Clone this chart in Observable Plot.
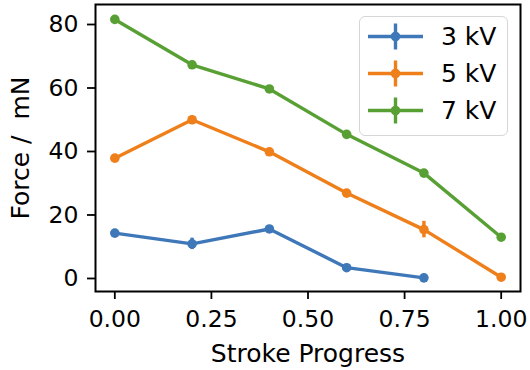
<!DOCTYPE html>
<html><head><meta charset="utf-8">
<script src="https://cdn.jsdelivr.net/npm/d3@7"></script>
<script src="https://cdn.jsdelivr.net/npm/@observablehq/plot@0.6"></script>
<style>
html,body{margin:0;padding:0;background:#fff;}
#wrap{position:relative;width:530px;height:370px;font-family:"DejaVu Sans",sans-serif;}
#legend{position:absolute;left:359px;top:16px;width:149px;height:120px;border:1.5px solid #d6d6d6;border-radius:6px;background:rgba(255,255,255,0.85);box-sizing:border-box;}
.row{position:absolute;left:0;height:37px;width:145px;}
.row svg{position:absolute;left:7.5px;top:0;}
.row span{position:absolute;left:81px;top:0;line-height:37px;font-size:25px;color:#000;white-space:nowrap;}
</style>
</head><body>
<div id="wrap"></div>
<script>
const progress = [0, 0.2, 0.4, 0.6, 0.8, 1.0];
const series = ["3 kV", "5 kV", "7 kV"];
const colors = ["#3f78b8", "#ef7f1a", "#58a034"];
const force3 = [14.3, 10.9, 15.6, 3.4, 0.2];
const err3 = [0.6, 1.8, 0.7, 0.5, 0.3];
const force5 = [37.9, 50.0, 39.9, 26.9, 15.4, 0.4];
const err5 = [0.5, 0.6, 0.5, 0.5, 2.6, 0.3];
const force7 = [81.6, 67.3, 59.7, 45.4, 33.2, 13.0];
const err7 = [0.5, 0.6, 0.5, 0.5, 0.6, 0.4];
const xTicks = [0, 0.25, 0.5, 0.75, 1.0];
const yTicks = [0, 20, 40, 60, 80];

const forces = [force3, force5, force7];
const errs = [err3, err5, err7];
const rows = [];
series.forEach((s, i) => {
  forces[i].forEach((v, j) => rows.push({series: s, x: progress[j], y: v, lo: v - errs[i][j], hi: v + errs[i][j]}));
});

const chart = Plot.plot({
  width: 530,
  height: 370,
  marginLeft: 95,
  marginRight: 10,
  marginTop: 4,
  marginBottom: 79,
  style: {fontFamily: "DejaVu Sans, sans-serif", fontSize: "23.5px", color: "#000", background: "#fff", overflow: "visible"},
  x: {domain: [-0.05, 1.05]},
  y: {domain: [-4.1, 86.3]},
  color: {domain: series, range: colors},
  marks: [
    Plot.line(rows, {x: "x", y: "y", z: "series", stroke: "series", strokeWidth: 3.4}),
    Plot.ruleX(rows, {x: "x", y1: "lo", y2: "hi", stroke: "series", strokeWidth: 3.4}),
    Plot.dot(rows, {x: "x", y: "y", fill: "series", r: 4.8}),
    Plot.frame({stroke: "#000", strokeWidth: 2}),
    Plot.axisX({ticks: xTicks, tickFormat: d3.format(".2f"), tickSize: 8, tickPadding: 11, strokeWidth: 1.8, label: null}),
    Plot.axisX({ticks: [], tickSize: 0, fontSize: 25,
      label: "Stroke Progress", labelAnchor: "center", labelArrow: "none", labelOffset: 70}),
    Plot.axisY({ticks: yTicks, tickFormat: d => String(d), tickSize: 8, tickPadding: 9, strokeWidth: 1.8, label: null}),
    Plot.axisY({ticks: [], tickSize: 0, fontSize: 25,
      label: "Force /\u00a0 mN", labelAnchor: "center", labelArrow: "none", labelOffset: 84})
  ]
});

const wrap = document.getElementById("wrap");
wrap.appendChild(chart);

const legend = document.createElement("div");
legend.id = "legend";
const centers = [19.2, 56.5, 93.5];
series.forEach((s, i) => {
  const row = document.createElement("div");
  row.className = "row";
  row.style.top = (centers[i] - 18.5) + "px";
  const c = colors[i];
  row.innerHTML = `<svg width="56" height="37" viewBox="0 0 56 37">
    <line x1="0" x2="55" y1="18.5" y2="18.5" stroke="${c}" stroke-width="3.4"/>
    <line x1="27.5" x2="27.5" y1="5.5" y2="31.5" stroke="${c}" stroke-width="3.4"/>
    <circle cx="27.5" cy="18.5" r="4.8" fill="${c}"/>
  </svg><span>${s}</span>`;
  legend.appendChild(row);
});
wrap.appendChild(legend);
</script>
</body></html>
